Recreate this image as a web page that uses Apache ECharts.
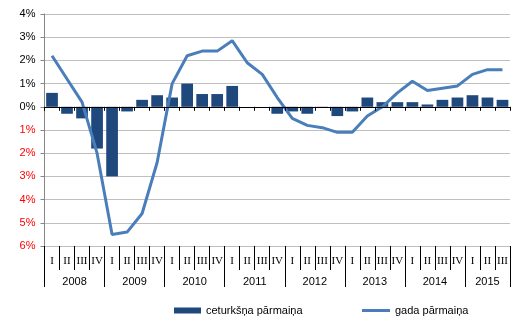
<!DOCTYPE html>
<html><head><meta charset="utf-8">
<script src="https://cdn.jsdelivr.net/npm/echarts@6/dist/echarts.min.js"></script>
<style>html,body{margin:0;padding:0;background:#fff}#c{width:528px;height:327px}</style>
</head><body><div id="c"></div>
<script>
var quarters = ['I','II','III','IV','I','II','III','IV','I','II','III','IV','I','II','III','IV','I','II','III','IV','I','II','III','IV','I','II','III','IV','I','II','III'];
var years = ['2008','2009','2010','2011','2012','2013','2014','2015'];
var yearCenters = [2,6,10,14,18,22,26,29.5];
var yearBounds = [0,4,8,12,16,20,24,28,31];
var quarterly = [0.6,-0.3,-0.5,-1.8,-3.0,-0.2,0.3,0.5,0.4,1.0,0.55,0.55,0.9,0,0,-0.3,-0.2,-0.3,-0.05,-0.4,-0.2,0.4,0.2,0.2,0.2,0.1,0.3,0.4,0.5,0.4,0.3];
var annual = [2.2,1.2,0.2,-2.0,-5.5,-5.4,-4.6,-2.4,1.0,2.2,2.4,2.4,2.85,1.9,1.4,0.4,-0.5,-0.8,-0.9,-1.1,-1.1,-0.4,0.0,0.6,1.1,0.7,0.8,0.9,1.4,1.6,1.6];
var yTicks = [-6,-5,-4,-3,-2,-1,0,1,2,3,4];

var FONT = 'Liberation Sans';
var chart = echarts.init(document.getElementById('c'), null, {renderer:'canvas'});
chart.setOption({
  animation:false,
  grid:{left:44.5,right:18,top:14,bottom:81,containLabel:false},
  legend:[
    {data:['ceturkšņa pārmaiņa'],left:174,top:305,itemWidth:27,itemHeight:6,icon:'rect',
     textStyle:{fontFamily:FONT,fontSize:11,color:'#000'},padding:0},
    {data:['gada pārmaiņa'],left:362,top:305,itemWidth:28,itemHeight:3,icon:'rect',
     textStyle:{fontFamily:FONT,fontSize:11,color:'#000'},padding:0}
  ],
  xAxis:[
    {type:'category',data:quarters,position:'bottom',z:5,
     axisLine:{onZero:true,lineStyle:{color:'#000',width:1}},
     axisTick:{show:true,length:4,lineStyle:{color:'#000'}},
     axisLabel:{show:false},splitLine:{show:false}},
    {type:'category',data:quarters,position:'bottom',
     axisLine:{onZero:false,show:true,lineStyle:{color:'#bfbfbf'}},
     axisTick:{show:true,length:24,lineStyle:{color:'#000'}},
     axisLabel:{show:true,interval:0,margin:10,fontFamily:'Liberation Serif',fontSize:11,color:'#000'},
     splitLine:{show:false}},
    {type:'value',min:0,max:31,position:'bottom',
     axisLine:{onZero:false,show:false},
     axisTick:{show:true,length:41,customValues:yearBounds,lineStyle:{color:'#000'}},
     axisLabel:{show:true,margin:30,customValues:yearCenters,fontFamily:FONT,fontSize:11,color:'#000',
       formatter:function(v){var i=yearCenters.indexOf(v);return i>=0?years[i]:'';}},
     splitLine:{show:false}}
  ],
  yAxis:{type:'value',min:-6,max:4,interval:1,
    axisLine:{show:true,lineStyle:{color:'#868686'}},
    axisTick:{show:true,length:4,lineStyle:{color:'#868686'}},
    splitLine:{show:true,lineStyle:{color:'#bfbfbf',width:1}},
    axisLabel:{margin:9,fontFamily:FONT,fontSize:11,
      formatter:function(v){return v<0?'{r|'+Math.abs(v)+'%}':'{b|'+v+'%}';},
      rich:{r:{color:'#ff0000',fontFamily:FONT,fontSize:11},b:{color:'#000',fontFamily:FONT,fontSize:11}}}
  },
  series:[
    {name:'ceturkšņa pārmaiņa',type:'bar',xAxisIndex:0,data:quarterly,barCategoryGap:'22%',
     itemStyle:{color:'#1f497d'}},
    {name:'gada pārmaiņa',type:'line',xAxisIndex:0,data:annual,symbol:'none',
     lineStyle:{color:'#4a7ebb',width:3},itemStyle:{color:'#4a7ebb'}}
  ]
});
</script></body></html>
